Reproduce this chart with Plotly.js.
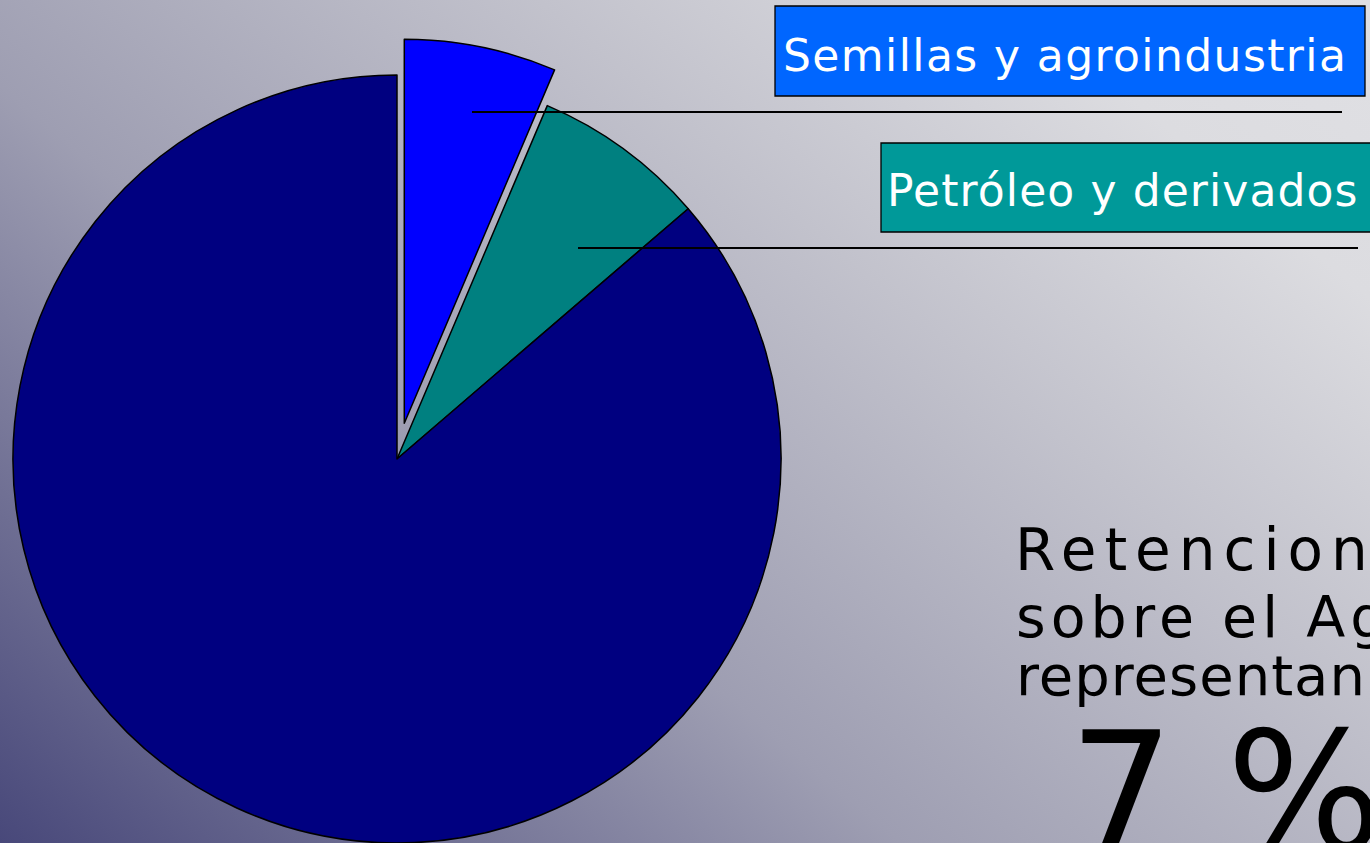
<!DOCTYPE html>
<html>
<head>
<meta charset="utf-8">
<script src="https://cdn.plot.ly/plotly-3.0.1.min.js"></script>
<style>
  html, body { margin: 0; padding: 0; width: 1370px; height: 843px; overflow: hidden; }
  body { background: linear-gradient(40deg, #48487a 0%, #9e9eb2 38%, #c2c2cc 65%, #dcdce0 85%, #e0e0e4 100%); position: relative; }
  #chart { position: absolute; left: -40px; top: 0; width: 1410px; height: 900px; }
</style>
</head>
<body>
<div id="chart"></div>
<script>
// ---- data ----
const categories = ["Semillas y agroindustria", "Petróleo y derivados", "Otros"];
const shares = [6.4, 7.3, 86.3];
const sliceColors = ["#0000ff", "#008080", "#000080"];
const slicePull = [0.095, 0, 0];
const boxLabels = ["Semillas y agroindustria", "Petróleo y derivados"];
const boxColors = ["#0066ff", "#009999"];
const noteLines = ["Retenciones", "sobre el Agro", "representan"];
const bigValue = "7 %";

// ---- layout helpers (screen pixel -> paper of offset div) ----
const OX = 40, W = 1410, H = 900;
const px = X => (X + OX) / W;
const py = Y => 1 - Y / H;

// pie placement: centre (397,459), radius 384
const cx = 397, cy = 459, r = 384;
const half = r * (1 + Math.max(...slicePull));

const trace = {
  type: "pie",
  labels: categories,
  values: shares,
  sort: false,
  direction: "clockwise",
  rotation: 0,
  pull: slicePull,
  textinfo: "none",
  hoverinfo: "label+percent",
  marker: { colors: sliceColors, line: { color: "#000000", width: 1.5 } },
  domain: { x: [px(cx - half), px(cx + half)], y: [py(cy + half), py(cy - half)] },
  showlegend: false,
  automargin: false
};

function txt(text, X, baseline, size, spacing, color) {
  return {
    xref: "paper", yref: "paper",
    x: px(X), y: py(baseline - 0.346 * size),
    xanchor: "left", yanchor: "middle",
    text: '<span style="letter-spacing:' + spacing + 'px">' + text + '</span>',
    showarrow: false,
    font: { family: "DejaVu Sans, Verdana, sans-serif", size: size, color: color }
  };
}

const shapes = [
  // label boxes
  { type: "rect", xref: "paper", yref: "paper", x0: px(775), x1: px(1365), y0: py(96), y1: py(6),
    fillcolor: boxColors[0], line: { color: "#000000", width: 1.3 }, layer: "above" },
  { type: "rect", xref: "paper", yref: "paper", x0: px(881), x1: px(1372), y0: py(232), y1: py(143),
    fillcolor: boxColors[1], line: { color: "#000000", width: 1.3 }, layer: "above" },
  // leader lines
  { type: "line", xref: "paper", yref: "paper", x0: px(472), x1: px(1342), y0: py(112), y1: py(112),
    line: { color: "#000000", width: 1.8 }, layer: "above" },
  { type: "line", xref: "paper", yref: "paper", x0: px(578), x1: px(1358), y0: py(248), y1: py(248),
    line: { color: "#000000", width: 1.8 }, layer: "above" }
];

const annotations = [
  txt(boxLabels[0], 781, 71, 44, 1.4, "#ffffff"),
  txt(boxLabels[1], 885, 206, 44, 1.1, "#ffffff"),
  txt(noteLines[0], 1013, 570, 58, 8, "#000000"),
  txt(noteLines[1], 1014, 637, 57, 5, "#000000"),
  txt(noteLines[2], 1014, 695, 56, 1, "#000000"),
  txt(bigValue, 1067, 850, 165, 0, "#000000")
];

const layout = {
  width: W, height: H,
  margin: { l: 0, r: 0, t: 0, b: 0 },
  paper_bgcolor: "rgba(0,0,0,0)",
  plot_bgcolor: "rgba(0,0,0,0)",
  showlegend: false,
  shapes: shapes,
  annotations: annotations
};

Plotly.newPlot("chart", [trace], layout, { displayModeBar: false, staticPlot: true });
</script>
</body>
</html>
